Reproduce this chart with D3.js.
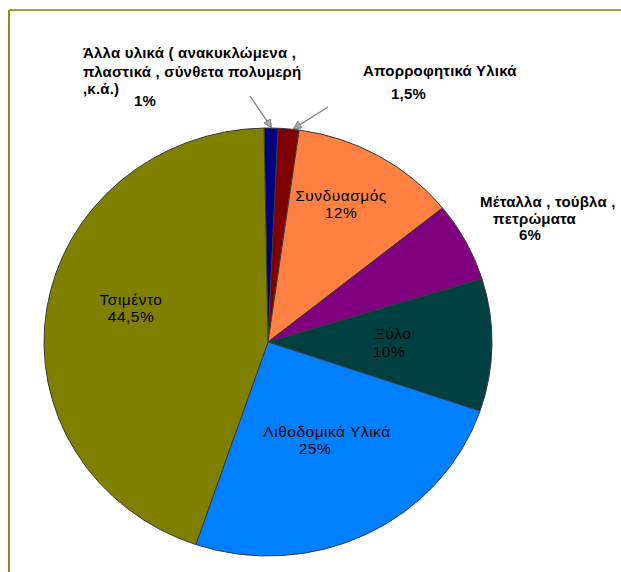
<!DOCTYPE html>
<html>
<head>
<meta charset="utf-8">
<script src="https://cdn.jsdelivr.net/npm/d3@7"></script>
<style>
  html, body { margin: 0; padding: 0; background: #fff; }
  svg { display: block; }
  text { font-family: "Liberation Sans", Arial, sans-serif; }
</style>
</head>
<body>
<svg id="chart" width="621" height="572"></svg>
<script>
// Material shares (%), clockwise from the top of the pie
const categories = [
  "Άλλα υλικά ( ανακυκλώμενα , πλαστικά , σύνθετα πολυμερή ,κ.ά.)",
  "Απορροφητικά Υλικά",
  "Συνδυασμός",
  "Μέταλλα , τούβλα , πετρώματα",
  "Ξύλο",
  "Λιθοδομικά Υλικά",
  "Τσιμέντο"
];
const values = [1, 1.5, 12, 6, 10, 25, 44.5];
const valueLabels = ["1%", "1,5%", "12%", "6%", "10%", "25%", "44,5%"];
const colors = ["#000080", "#800000", "#FF8040", "#800080", "#004040", "#0080FF", "#808000"];

const svg = d3.select("#chart");
const W = 621, H = 572;

// frame lines (top and left)
svg.append("line").attr("x1", 9).attr("y1", 10).attr("x2", W).attr("y2", 10)
  .attr("stroke", "#a4a43c").attr("stroke-width", 2);
svg.append("line").attr("x1", 9).attr("y1", 10).attr("x2", 9).attr("y2", H)
  .attr("stroke", "#8c8c14").attr("stroke-width", 2);

// pie geometry
const cx = 268, cy = 342, ry = 214, rx = 224;
const startDeg = -1;
const pie = d3.pie().sort(null).value(d => d)
  .startAngle(startDeg * Math.PI / 180)
  .endAngle(2 * Math.PI + startDeg * Math.PI / 180);
const arcs = pie(values);
const arc = d3.arc().innerRadius(0).outerRadius(ry);

const g = svg.append("g").attr("transform", `translate(${cx},${cy}) scale(${rx / ry},1)`);
g.selectAll("path").data(arcs).enter().append("path")
  .attr("d", arc)
  .attr("fill", (d, i) => colors[i])
  .attr("stroke", "#3a3a3a")
  .attr("stroke-width", 1)
  .attr("vector-effect", "non-scaling-stroke");

// labels inside slices: [name dx, name dy, value dx, value dy] relative to pie centre
const innerLayout = {
  2: [73, -141, 73, -124],
  4: [125, -3, 121, 15],
  5: [59, 95, 47, 112],
  6: [-137, -37, -137, -20]
};
Object.keys(innerLayout).forEach(k => {
  const i = +k, p = innerLayout[k];
  [[categories[i], p[0], p[1]], [valueLabels[i], p[2], p[3]]].forEach(t => {
    svg.append("text").attr("x", cx + t[1]).attr("y", cy + t[2])
      .attr("text-anchor", "middle").attr("font-size", 15.5)
      .attr("letter-spacing", 0.5).attr("fill", "#000")
      .text(t[0]);
  });
});

// labels outside the pie (bold, left aligned lines)
const outerLayout = [
  { i: 0, lines: [["Άλλα υλικά ( ανακυκλώμενα ,", 83, 58], ["πλαστικά , σύνθετα πολυμερή", 83, 77], [",κ.ά.)", 83, 94]], value: [134, 106] },
  { i: 1, lines: [[categories[1], 363, 76]], value: [391, 99] },
  { i: 3, lines: [["Μέταλλα , τούβλα ,", 480, 207], ["πετρώματα", 493, 224]], value: [519, 240] }
];
outerLayout.forEach(o => {
  o.lines.concat([[valueLabels[o.i], o.value[0], o.value[1]]]).forEach(l => {
    svg.append("text").attr("x", l[1]).attr("y", l[2])
      .attr("font-size", 15).attr("font-weight", "bold")
      .attr("letter-spacing", 0.2).attr("fill", "#000")
      .text(l[0]);
  });
});

// leader arrows pointing at the two thin slices
const defs = svg.append("defs");
defs.append("marker").attr("id", "head")
  .attr("viewBox", "0 0 10 10").attr("refX", 9).attr("refY", 5)
  .attr("markerWidth", 10).attr("markerHeight", 8).attr("markerUnits", "userSpaceOnUse")
  .attr("orient", "auto")
  .append("path").attr("d", "M0,0 L10,5 L0,10 Z")
  .attr("fill", "#a8a8a8").attr("stroke", "#666").attr("stroke-width", 0.8);

function edgePoint(i, frac) {
  const a = arcs[i].startAngle + (arcs[i].endAngle - arcs[i].startAngle) * frac;
  return [cx + rx * Math.sin(a), cy - ry * Math.cos(a)];
}
const arrows = [
  { from: [250, 96], to: edgePoint(0, 0.5) },
  { from: [328, 107], to: edgePoint(1, 0.75) }
];
arrows.forEach(a => {
  svg.append("line")
    .attr("x1", a.from[0]).attr("y1", a.from[1])
    .attr("x2", a.to[0]).attr("y2", a.to[1] - 1)
    .attr("stroke", "#808080").attr("stroke-width", 1.3)
    .attr("marker-end", "url(#head)");
});
</script>
</body>
</html>
